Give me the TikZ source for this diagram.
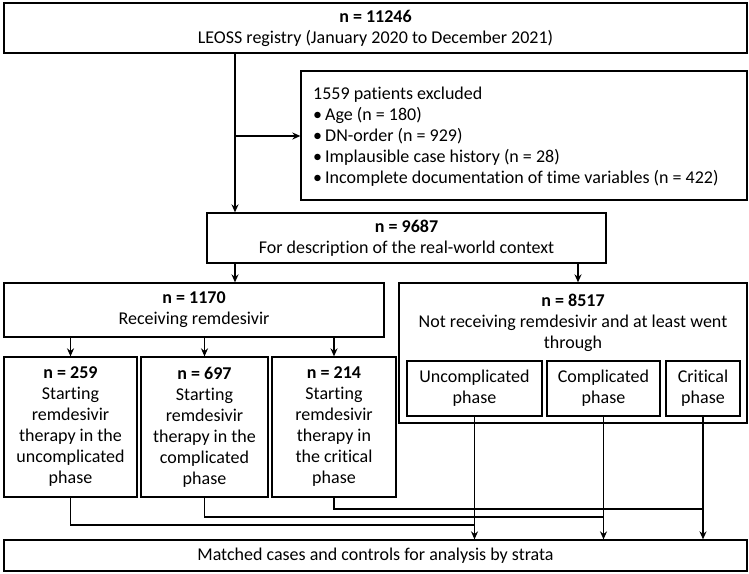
\documentclass[tikz,border=0pt]{standalone}
\usepackage{fontspec}
\setmainfont{Carlito}[Ligatures=NoCommon]
\usetikzlibrary{arrows.meta}
\begin{document}
\begin{tikzpicture}[x=1pt,y=-1pt,
  font=\fontsize{18}{21}\selectfont,
  box/.style={draw, line width=1.3pt, inner sep=0pt, align=center},
  txt/.style={inner sep=0pt, align=center},
  conn/.style={line width=1.3pt},
  arr/.style={line width=1.3pt, -{Stealth[length=8pt,width=7pt]}}]
\useasboundingbox (0,0) rectangle (749,573);
% boxes
\node[box, minimum width=743pt, minimum height=50pt] (top) at (375.5,28) {\textbf{n = 11246}\\LEOSS registry (January 2020 to December 2021)};
\node[box, minimum width=446pt, minimum height=129pt] (excl) at (524,135.5) {};
\node[txt, anchor=west, align=left] (excltext) at (313,136.5) {1559 patients excluded\\
\makebox[12pt][l]{•}Age (n = 180)\\
\makebox[12pt][l]{•}DN-order (n = 929)\\
\makebox[12pt][l]{•}Implausible case history (n = 28)\\
\makebox[12pt][l]{•}Incomplete documentation of time variables (n = 422)};
\node[box, minimum width=399pt, minimum height=50pt] (n9687) at (406.5,238) {\textbf{n = 9687}\\For description of the real-world context};
\node[box, minimum width=380pt, minimum height=54pt] (n1170) at (194,310) {\textbf{n = 1170}\\Receiving remdesivir};
\node[box, minimum width=348pt, minimum height=140pt] (n8517) at (573,353) {};
\node[txt] (t8517) at (573,323) {\textbf{n = 8517}\\Not receiving remdesivir and at least went\\through};
\node[box, minimum width=135pt, minimum height=55pt] (u) at (474.5,388.5) {Uncomplicated\\phase};
\node[box, minimum width=113pt, minimum height=55pt] (c) at (603.5,388.5) {Complicated\\phase};
\node[box, minimum width=74pt, minimum height=55pt] (cr) at (703,388.5) {Critical\\phase};
\node[box, minimum width=133pt, minimum height=140pt] (b259) at (70.5,427) {\textbf{n = 259}\\Starting\\remdesivir\\therapy in the\\uncomplicated\\phase};
\node[box, minimum width=127pt, minimum height=140pt] (b697) at (204.5,427) {\textbf{n = 697}\\Starting\\remdesivir\\therapy in the\\complicated\\phase};
\node[box, minimum width=124pt, minimum height=140pt] (b214) at (334,427) {\textbf{n = 214}\\Starting\\remdesivir\\therapy in\\the critical\\phase};
\node[box, minimum width=743pt, minimum height=31pt] (bot) at (375.5,555.5) {Matched cases and controls for analysis by strata};
% coordinates
\coordinate (c235) at (235,0);
\coordinate (c578) at (578,0);
\coordinate (br) at (235,136);
\coordinate (j1) at (0,525);
\coordinate (j2) at (0,517);
\coordinate (j3) at (0,509);
% connectors
\draw[arr] (top.south -| c235) -- (n9687.north -| c235);
\draw[arr] (br) -- (br -| excl.west);
\draw[arr] (n9687.south -| c235) -- (n1170.north -| c235);
\draw[arr] (n9687.south -| c578) -- (n8517.north -| c578);
\draw[arr] (n1170.south -| b259.north) -- (b259.north);
\draw[arr] (n1170.south -| b697.north) -- (b697.north);
\draw[arr] (n1170.south -| b214.north) -- (b214.north);
\draw[arr] (u.south) -- (u.south |- bot.north);
\draw[arr] (c.south) -- (c.south |- bot.north);
\draw[arr] (cr.south) -- (cr.south |- bot.north);
\draw[conn] (b259.south) |- (u.south |- j1);
\draw[conn] (b697.south) |- (c.south |- j2);
\draw[conn] (b214.south) |- (cr.south |- j3);
\end{tikzpicture}
\end{document}
